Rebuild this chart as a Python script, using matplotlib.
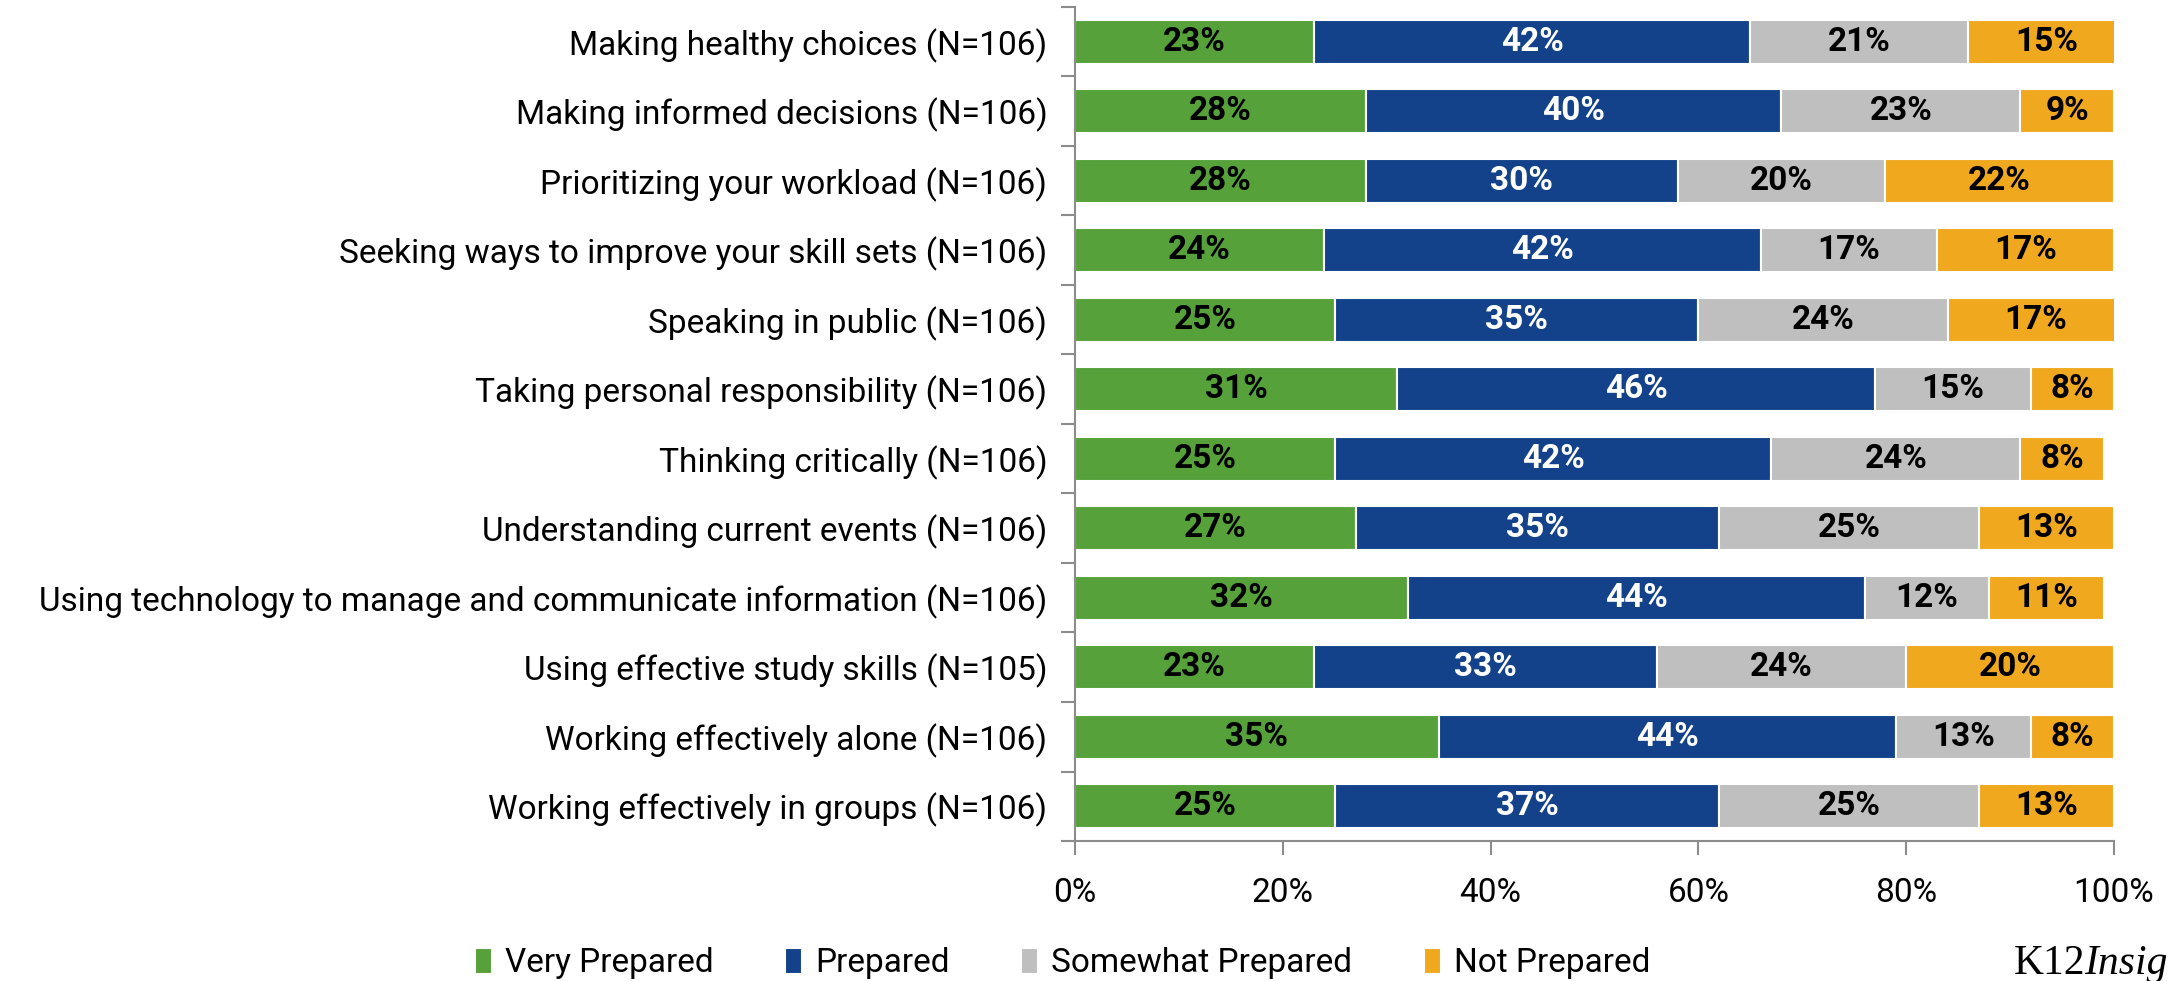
import matplotlib; matplotlib.use("Agg")
import matplotlib.pyplot as plt
import numpy as np

plt.rcParams["font.family"] = ["Roboto", "DejaVu Sans"]

categories = [
    "Making healthy choices (N=106)",
    "Making informed decisions (N=106)",
    "Prioritizing your workload (N=106)",
    "Seeking ways to improve your skill sets (N=106)",
    "Speaking in public (N=106)",
    "Taking personal responsibility (N=106)",
    "Thinking critically (N=106)",
    "Understanding current events (N=106)",
    "Using technology to manage and communicate information (N=106)",
    "Using effective study skills (N=105)",
    "Working effectively alone (N=106)",
    "Working effectively in groups (N=106)",
]
very_prepared = [23, 28, 28, 24, 25, 31, 25, 27, 32, 23, 35, 25]
prepared      = [42, 40, 30, 42, 35, 46, 42, 35, 44, 33, 44, 37]
somewhat      = [21, 23, 20, 17, 24, 15, 24, 25, 12, 24, 13, 25]
not_prepared  = [15,  9, 22, 17, 17,  8,  8, 13, 11, 20,  8, 13]
series_names = ["Very Prepared", "Prepared", "Somewhat Prepared", "Not Prepared"]
xticks = [0, 20, 40, 60, 80, 100]

colors = ["#56A13A", "#14428A", "#BFBFBF", "#F0A91E"]
txtcol = ["black", "white", "black", "black"]
AXC = "#8C8C8C"
FS = 24

fig = plt.figure(figsize=(21.82, 9.81), dpi=100)
ax = fig.add_axes([0.4927, 0.1427, 0.4761, 0.8502])

y = np.arange(len(categories))
left = np.zeros(len(categories))
for vals, name, c, tc in zip([very_prepared, prepared, somewhat, not_prepared], series_names, colors, txtcol):
    vals = np.array(vals, dtype=float)
    bars = ax.barh(y, vals, left=left, height=0.63, color=c, edgecolor="white", linewidth=1.5, label=name)
    for b, v in zip(bars, vals):
        ax.text(b.get_x() + b.get_width() / 2, b.get_y() + b.get_height() / 2, f"{v:.0f}%",
                ha="center", va="center", color=tc, fontsize=FS, fontweight="bold")
    left += vals

ax.set_ylim(len(categories) - 0.5, -0.5)
ax.set_xlim(0, 100)
ax.set_yticks(y)
ax.set_yticklabels(categories, fontsize=FS)
ax.set_yticks(np.arange(len(categories) + 1) - 0.5, minor=True)
ax.tick_params(axis="y", which="major", length=0, pad=20)
ax.tick_params(axis="y", which="minor", length=10, color=AXC, width=1.5)
ax.set_xticks(xticks)
ax.set_xticklabels([f"{t}%" for t in xticks], fontsize=FS)
ax.tick_params(axis="x", length=10, color=AXC, width=1.5, pad=16)
for s in ["top", "right"]:
    ax.spines[s].set_visible(False)
for s in ["left", "bottom"]:
    ax.spines[s].set_color(AXC)
    ax.spines[s].set_linewidth(1.5)

fig.legend(loc="center", bbox_to_anchor=(0.487, 0.018), ncol=4, frameon=False, fontsize=FS,
           handlelength=0.5, handleheight=0.8, handletextpad=0.4, columnspacing=2.15)

# logo text, clipped at the right edge in the source
fig.text(0.923, 0.018, "K12", fontsize=30, family="Liberation Serif", va="center", ha="left")
fig.text(0.955, 0.018, "Insig", fontsize=30, family="Liberation Serif", style="italic", va="center", ha="left")

fig.savefig("out.png", dpi=100)
